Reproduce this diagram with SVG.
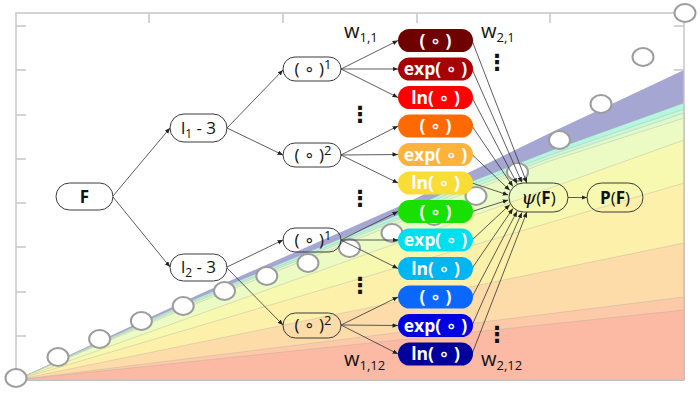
<svg xmlns="http://www.w3.org/2000/svg" width="700" height="394" viewBox="0 0 700 394">
<defs>
<marker id="ah" markerUnits="userSpaceOnUse" markerWidth="6" markerHeight="5" refX="5.5" refY="2.3" orient="auto"><path d="M0,0 L5.5,2.3 L0,4.6 z" fill="#222"/></marker>
<style>
.ax{stroke:#c6c6c6;stroke-width:1.5;fill:none}
.bl{stroke:#b0a8a0;stroke-opacity:0.45;stroke-width:0.8}
.ring{fill:#fff;stroke:#9c9c9c;stroke-width:2}
.nd{fill:none;stroke:#3a3a3a;stroke-width:1}
.e{stroke:#333;stroke-width:0.8;fill:none;marker-end:url(#ah)}
text{font-family:"Open Sans","DejaVu Sans",sans-serif;fill:#111}
.cbt{fill:#fff;font-weight:bold;font-size:17.5px;text-anchor:middle}
.nt{font-size:17px;text-anchor:middle}
.w{font-size:20px}
.sub{font-size:12px}
.sup{font-size:13px}
.wsub{font-size:13px}
.vd{font-family:"DejaVu Sans",sans-serif;font-size:22px;font-weight:bold;text-anchor:middle}
</style>
</defs>
<rect width="700" height="394" fill="#fff"/>
<g class="ax">
<path d="M16,26h10M16,70h10M16,115h10M16,159h10M16,203h10M16,247h10M16,292h10M16,336h10"/>
<path d="M149,13v10M283,13v10M417,13v10M550,13v10"/>
<path d="M684,26h-10M684,70h-10"/>
</g>
<g id="bands">
<path d="M16,380 L200,294 L400,206 L550,133 L684,70 L684,380 Z" fill="#a6a6d3"/>
<path d="M16,380 L200,297 L400,214 L450,190 L550,151 L684,103 L684,380 Z" fill="#b4f7e1" class="bl"/>
<path d="M16,380 L200,298.5 L400,217 L450,193 L550,155 L684,109 L684,380 Z" fill="#c9f8d6" class="bl"/>
<path d="M16,380 L200,300 L400,219 L450,196 L550,158 L684,113 L684,380 Z" fill="#dcfacb" class="bl"/>
<path d="M16,380 L200,302 L400,222 L450,199 L550,161 L684,118 L684,380 Z" fill="#ecfbc3" class="bl"/>
<path d="M16,380 L684,140 L684,380 Z" fill="#f7f9b1" class="bl"/>
<path d="M16,380 L684,183 L684,380 Z" fill="#fdf0ab" class="bl"/>
<path d="M16,380 L684,243 L684,380 Z" fill="#fddcaa" class="bl"/>
<path d="M16,380 L684,297 L684,380 Z" fill="#fdcaa9" class="bl"/>
<path d="M16,380 L684,310 L684,380 Z" fill="#fcb9a3" class="bl"/>
</g>
<path class="ax" d="M16,13 H684 V380 H16 Z"/>
<g id="points">
<ellipse class="ring" cx="16" cy="378" rx="10.5" ry="9"/>
<ellipse class="ring" cx="58" cy="357" rx="10.5" ry="9"/>
<ellipse class="ring" cx="99.6" cy="339" rx="10.5" ry="9"/>
<ellipse class="ring" cx="141.4" cy="321" rx="10.5" ry="9"/>
<ellipse class="ring" cx="183.2" cy="306" rx="10.5" ry="9"/>
<ellipse class="ring" cx="224.5" cy="291" rx="10.5" ry="9"/>
<ellipse class="ring" cx="266.8" cy="276" rx="10.5" ry="9"/>
<ellipse class="ring" cx="308" cy="263" rx="10.5" ry="9"/>
<ellipse class="ring" cx="349.5" cy="248" rx="10.5" ry="9"/>
<ellipse class="ring" cx="392" cy="233" rx="10.5" ry="9"/>
<ellipse class="ring" cx="434" cy="216" rx="10.5" ry="9"/>
<ellipse class="ring" cx="476" cy="196" rx="10.5" ry="9"/>
<ellipse class="ring" cx="517.5" cy="172" rx="10.5" ry="9"/>
<ellipse class="ring" cx="559.5" cy="140" rx="10.5" ry="9"/>
<ellipse class="ring" cx="601" cy="104" rx="10.5" ry="9"/>
<ellipse class="ring" cx="643" cy="57" rx="10.5" ry="9"/>
<ellipse class="ring" cx="685" cy="13" rx="10.5" ry="9"/>
</g>
<g id="connectors">
<line class="e" x1="113" y1="196" x2="170" y2="128"/>
<line class="e" x1="113" y1="197" x2="170" y2="267"/>
<line class="e" x1="227" y1="128" x2="283" y2="70"/>
<line class="e" x1="227" y1="128" x2="283" y2="155"/>
<line class="e" x1="227" y1="267" x2="283" y2="240"/>
<line class="e" x1="227" y1="268" x2="283" y2="325"/>
<line class="e" x1="341" y1="69" x2="398" y2="40.5"/>
<line class="e" x1="341" y1="69" x2="398" y2="69"/>
<line class="e" x1="341" y1="69" x2="398" y2="97.5"/>
<line class="e" x1="341" y1="155" x2="398" y2="126"/>
<line class="e" x1="341" y1="155" x2="398" y2="154.5"/>
<line class="e" x1="341" y1="155" x2="398" y2="183"/>
<line class="e" x1="341" y1="240" x2="398" y2="211.5"/>
<line class="e" x1="341" y1="240" x2="398" y2="240"/>
<line class="e" x1="341" y1="240" x2="398" y2="268.5"/>
<line class="e" x1="341" y1="325" x2="398" y2="297"/>
<line class="e" x1="341" y1="325" x2="398" y2="325.5"/>
<line class="e" x1="341" y1="325" x2="398" y2="354"/>
<line class="e" x1="472" y1="40.5" x2="526.9" y2="183"/>
<line class="e" x1="472" y1="69" x2="521.9" y2="182.5"/>
<line class="e" x1="472" y1="97.5" x2="517.1" y2="183.7"/>
<line class="e" x1="472" y1="126" x2="512.9" y2="186.4"/>
<line class="e" x1="472" y1="154.5" x2="509.8" y2="190.3"/>
<line class="e" x1="472" y1="183" x2="508.2" y2="195"/>
<line class="e" x1="472" y1="211.5" x2="508.2" y2="200"/>
<line class="e" x1="472" y1="240" x2="509.8" y2="204.7"/>
<line class="e" x1="472" y1="268.5" x2="512.9" y2="208.6"/>
<line class="e" x1="472" y1="297" x2="517.1" y2="211.3"/>
<line class="e" x1="472" y1="325.5" x2="521.9" y2="212.5"/>
<line class="e" x1="472" y1="354" x2="526.9" y2="212"/>
<line class="e" x1="568" y1="197.5" x2="587" y2="197.5"/>
</g>
<g id="F"><rect class="nd" x="56" y="183" width="57" height="27" rx="13.5"/><text class="nt" x="84.5" y="202.5" font-weight="bold">F</text></g>
<g id="l1"><rect class="nd" x="170" y="114" width="57" height="28" rx="14"/><text class="nt" x="198.5" y="133.5">l<tspan class="sub" dy="4">1</tspan><tspan dy="-4"> - 3</tspan></text></g>
<g id="l2"><rect class="nd" x="170" y="254" width="57" height="27" rx="13.5"/><text class="nt" x="198.5" y="273">l<tspan class="sub" dy="4">2</tspan><tspan dy="-4"> - 3</tspan></text></g>
<g id="p1a"><rect class="nd" x="283" y="57" width="58" height="24" rx="12"/><text class="nt" x="313" y="75">( ∘ )<tspan class="sup" dy="-6">1</tspan></text></g>
<g id="p2a"><rect class="nd" x="283" y="143" width="58" height="24" rx="12"/><text class="nt" x="313" y="161">( ∘ )<tspan class="sup" dy="-6">2</tspan></text></g>
<g id="p1b"><rect class="nd" x="283" y="228" width="58" height="24" rx="12"/><text class="nt" x="313" y="246">( ∘ )<tspan class="sup" dy="-6">1</tspan></text></g>
<g id="p2b"><rect class="nd" x="283" y="313" width="58" height="25" rx="12.5"/><text class="nt" x="313" y="331">( ∘ )<tspan class="sup" dy="-6">2</tspan></text></g>
<g id="b1"><rect x="398" y="29" width="75" height="23" rx="11.5" fill="#6e0000"/><text class="cbt" x="435.5" y="46.5">( ∘ )</text></g>
<g id="b2"><rect x="398" y="57.5" width="75" height="23" rx="11.5" fill="#a80000"/><text class="cbt" x="435.5" y="75">exp( ∘ )</text></g>
<g id="b3"><rect x="398" y="86" width="75" height="23" rx="11.5" fill="#ff0000"/><text class="cbt" x="435.5" y="103.5">ln( ∘ )</text></g>
<g id="b4"><rect x="398" y="114.5" width="75" height="23" rx="11.5" fill="#ff6a00"/><text class="cbt" x="435.5" y="132">( ∘ )</text></g>
<g id="b5"><rect x="398" y="143" width="75" height="23" rx="11.5" fill="#ffb23c"/><text class="cbt" x="435.5" y="160.5">exp( ∘ )</text></g>
<g id="b6"><rect x="398" y="171.5" width="75" height="23" rx="11.5" fill="#f9dd37"/><text class="cbt" x="435.5" y="189">ln( ∘ )</text></g>
<g id="b7"><rect x="398" y="200" width="75" height="23" rx="11.5" fill="#19e000"/><text class="cbt" x="435.5" y="217.5">( ∘ )</text></g>
<g id="b8"><rect x="398" y="228.5" width="75" height="23" rx="11.5" fill="#00dff0"/><text class="cbt" x="435.5" y="246">exp( ∘ )</text></g>
<g id="b9"><rect x="398" y="257" width="75" height="23" rx="11.5" fill="#00b6f2"/><text class="cbt" x="435.5" y="274.5">ln( ∘ )</text></g>
<g id="b10"><rect x="398" y="285.5" width="75" height="23" rx="11.5" fill="#0a68ff"/><text class="cbt" x="435.5" y="303">( ∘ )</text></g>
<g id="b11"><rect x="398" y="314" width="75" height="23" rx="11.5" fill="#0000e0"/><text class="cbt" x="435.5" y="331.5">exp( ∘ )</text></g>
<g id="b12"><rect x="398" y="342.5" width="75" height="23" rx="11.5" fill="#00009c"/><text class="cbt" x="435.5" y="360">ln( ∘ )</text></g>
<g id="psi"><rect class="nd" x="509" y="183" width="59" height="29" rx="14.5"/><text class="nt" x="538.5" y="203.5"><tspan font-family="'DejaVu Serif',serif" font-style="italic" font-size="19">ψ</tspan>(<tspan font-weight="bold">F</tspan>)</text></g>
<g id="P"><rect class="nd" x="587" y="183" width="56" height="29" rx="14.5"/><text class="nt" x="615" y="203.5"><tspan font-weight="bold">P</tspan>(<tspan font-weight="bold">F</tspan>)</text></g>
<text class="w" x="344" y="37.5">w<tspan class="wsub" dy="4">1,1</tspan></text>
<text class="w" x="481" y="37.5">w<tspan class="wsub" dy="4">2,1</tspan></text>
<text class="w" x="344" y="366">w<tspan class="wsub" dy="4">1,12</tspan></text>
<text class="w" x="481" y="366">w<tspan class="wsub" dy="4">2,12</tspan></text>
<text class="vd" x="497" y="70">⋮</text>
<text class="vd" x="360" y="122">⋮</text>
<text class="vd" x="360" y="206">⋮</text>
<text class="vd" x="360" y="293">⋮</text>
<text class="vd" x="497" y="342">⋮</text>
</svg>
